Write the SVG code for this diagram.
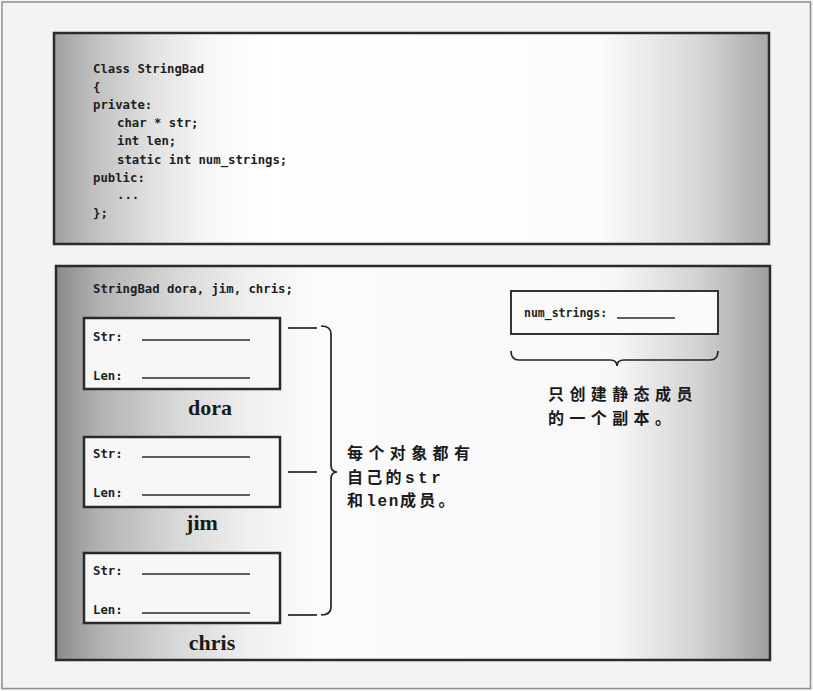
<svg xmlns="http://www.w3.org/2000/svg" width="813" height="691" viewBox="0 0 813 691">
<defs>
  <linearGradient id="gTop" x1="0" y1="0" x2="1" y2="0">
    <stop offset="0" stop-color="#a0a0a0"/>
    <stop offset="0.06" stop-color="#c2c2c2"/>
    <stop offset="0.14" stop-color="#e2e2e2"/>
    <stop offset="0.22" stop-color="#f8f8f8"/>
    <stop offset="0.3" stop-color="#ffffff"/>
    <stop offset="0.76" stop-color="#fcfcfc"/>
    <stop offset="0.9" stop-color="#d8d8d8"/>
    <stop offset="1" stop-color="#a8a8a8"/>
  </linearGradient>
  <linearGradient id="gBot" x1="0" y1="0" x2="1" y2="0">
    <stop offset="0" stop-color="#8a8a8a"/>
    <stop offset="0.06" stop-color="#b2b2b2"/>
    <stop offset="0.17" stop-color="#d8d8d8"/>
    <stop offset="0.27" stop-color="#efefef"/>
    <stop offset="0.36" stop-color="#fbfbfb"/>
    <stop offset="0.78" stop-color="#f8f8f8"/>
    <stop offset="0.9" stop-color="#d2d2d2"/>
    <stop offset="1" stop-color="#9e9e9e"/>
  </linearGradient>
  <style>
    .panel { stroke: #2b2b2b; stroke-width: 2.5; }
    .code { font-family: "DejaVu Sans Mono", "Liberation Mono", monospace; font-weight: bold; font-size: 12.3px; fill: #1e1e1e; }
    .obj { fill: #f7f7f7; stroke: #2a2a2a; stroke-width: 2.5; }
    .field { stroke: #2a2a2a; stroke-width: 1.6; }
    .name { font-family: "Liberation Serif", "Times New Roman", serif; font-weight: bold; font-size: 22px; fill: #1a1a1a; text-anchor: middle; }
    .conn { fill: none; stroke: #222; stroke-width: 1.7; }
    .cjk { font-family: "Noto Sans CJK SC", "Noto Sans", sans-serif; font-weight: bold; font-size: 16px; fill: #1a1a1a; }
    .lat { font-family: "Liberation Mono", "DejaVu Sans Mono", monospace; font-weight: bold; }
  </style>
</defs>
<rect x="0" y="0" width="813" height="691" fill="#f3f3f3"/>
<rect x="2" y="2" width="808.5" height="686.5" fill="none" stroke="#8e8e8e" stroke-width="1.5"/>

<g id="class-panel">
  <rect class="panel" x="54" y="33" width="715" height="211" fill="url(#gTop)"/>
  <text class="code" x="93" y="73">Class StringBad</text>
  <text class="code" x="93" y="91">{</text>
  <text class="code" x="93" y="109">private:</text>
  <text class="code" x="117" y="127">char * str;</text>
  <text class="code" x="117" y="145">int len;</text>
  <text class="code" x="117" y="164">static int num_strings;</text>
  <text class="code" x="93" y="182">public:</text>
  <text class="code" x="117" y="199">...</text>
  <text class="code" x="93" y="217">};</text>
</g>

<g id="objects-panel">
  <rect class="panel" x="56" y="266" width="714" height="394" fill="url(#gBot)"/>
  <text class="code" x="93" y="293">StringBad dora, jim, chris;</text>
</g>

<g id="dora">
  <rect class="obj" x="84" y="318" width="196" height="71"/>
  <text class="code" x="93" y="341">Str:</text>
  <line class="field" x1="142" y1="340" x2="250" y2="340"/>
  <text class="code" x="93" y="380">Len:</text>
  <line class="field" x1="142" y1="378" x2="250" y2="378"/>
  <text class="name" x="210" y="415">dora</text>
</g>

<g id="jim">
  <rect class="obj" x="84" y="437" width="196" height="70"/>
  <text class="code" x="93" y="458">Str:</text>
  <line class="field" x1="142" y1="457" x2="250" y2="457"/>
  <text class="code" x="93" y="497">Len:</text>
  <line class="field" x1="142" y1="495" x2="250" y2="495"/>
  <text class="name" x="202" y="530">jim</text>
</g>

<g id="chris">
  <rect class="obj" x="84" y="553" width="196" height="70"/>
  <text class="code" x="93" y="575">Str:</text>
  <line class="field" x1="142" y1="574" x2="250" y2="574"/>
  <text class="code" x="93" y="614">Len:</text>
  <line class="field" x1="142" y1="613" x2="250" y2="613"/>
  <text class="name" x="212" y="650">chris</text>
</g>

<g id="num-strings">
  <rect x="511" y="291" width="207" height="43" fill="#fafafa" stroke="#333" stroke-width="2"/>
  <text class="code" x="524" y="317" style="font-size:11.5px">num_strings:</text>
  <line class="field" x1="617" y1="318" x2="675" y2="318" stroke-width="1.3"/>
</g>

<g id="connectors">
  <line class="conn" x1="288" y1="328" x2="317" y2="328"/>
  <line class="conn" x1="288" y1="472" x2="317" y2="472"/>
  <line class="conn" x1="288" y1="615" x2="317" y2="615"/>
  <path class="conn" d="M 321 326 Q 331 326 331 334 L 331 465 Q 331 472 337 472 Q 331 472 331 479 L 331 607 Q 331 615 321 615"/>
  <path class="conn" d="M 511 351 Q 511 360 519 360 L 610 360 Q 617 360 617 366 Q 617 360 624 360 L 710 360 Q 718 360 718 351"/>
</g>

<g id="note-members">
  <text class="cjk" x="347" y="459" letter-spacing="5.4">每个对象都有</text>
  <text class="cjk" x="347" y="482.5" letter-spacing="3.3">自己的<tspan class="lat" letter-spacing="3.6">str</tspan></text>
  <text class="cjk" x="347" y="506" letter-spacing="3.3">和<tspan class="lat" letter-spacing="1.6">len</tspan>成员。</text>
</g>

<g id="note-static">
  <text class="cjk" x="548" y="400" letter-spacing="5.4">只创建静态成员</text>
  <text class="cjk" x="548" y="423.5" letter-spacing="5.4">的一个副本。</text>
</g>
</svg>
